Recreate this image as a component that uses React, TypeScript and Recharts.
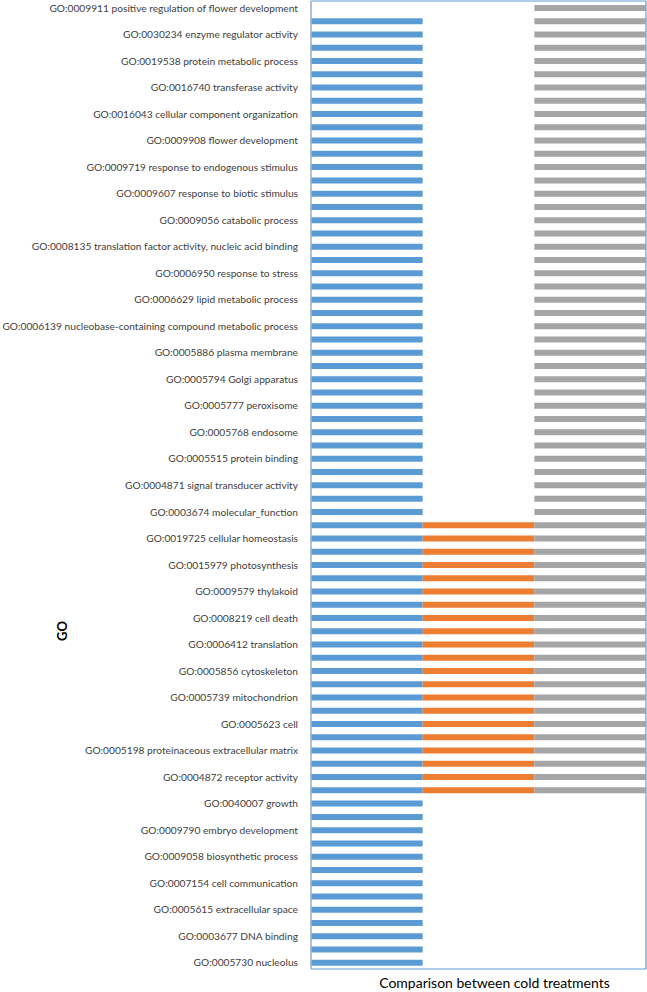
import {
  BarChart,
  Bar,
  XAxis,
  YAxis,
  CartesianGrid,
  ReferenceArea,
  Label,
} from "recharts";

// GO terms printed on the axis (the axis shows every other row)
const GO_TERMS = [
  "GO:0009911 positive regulation of flower development",
  "GO:0030234 enzyme regulator activity",
  "GO:0019538 protein metabolic process",
  "GO:0016740 transferase activity",
  "GO:0016043 cellular component organization",
  "GO:0009908 flower development",
  "GO:0009719 response to endogenous stimulus",
  "GO:0009607 response to biotic stimulus",
  "GO:0009056 catabolic process",
  "GO:0008135 translation factor activity, nucleic acid binding",
  "GO:0006950 response to stress",
  "GO:0006629 lipid metabolic process",
  "GO:0006139 nucleobase-containing compound metabolic process",
  "GO:0005886 plasma membrane",
  "GO:0005794 Golgi apparatus",
  "GO:0005777 peroxisome",
  "GO:0005768 endosome",
  "GO:0005515 protein binding",
  "GO:0004871 signal transducer activity",
  "GO:0003674 molecular_function",
  "GO:0019725 cellular homeostasis",
  "GO:0015979 photosynthesis",
  "GO:0009579 thylakoid",
  "GO:0008219 cell death",
  "GO:0006412 translation",
  "GO:0005856 cytoskeleton",
  "GO:0005739 mitochondrion",
  "GO:0005623 cell",
  "GO:0005198 proteinaceous extracellular matrix",
  "GO:0004872 receptor activity",
  "GO:0040007 growth",
  "GO:0009790 embryo development",
  "GO:0009058 biosynthetic process",
  "GO:0007154 cell communication",
  "GO:0005615 extracellular space",
  "GO:0003677 DNA binding",
  "GO:0005730 nucleolus",
];

// presence (1) / absence (0) of each GO row in the three comparisons, top to bottom
const BLUE = [
  0, 1, 1, 1, 1, 1, 1, 1, 1, 1,
  1, 1, 1, 1, 1, 1, 1, 1, 1, 1,
  1, 1, 1, 1, 1, 1, 1, 1, 1, 1,
  1, 1, 1, 1, 1, 1, 1, 1, 1, 1,
  1, 1, 1, 1, 1, 1, 1, 1, 1, 1,
  1, 1, 1, 1, 1, 1, 1, 1, 1, 1,
  1, 1, 1, 1, 1, 1, 1, 1, 1, 1,
  1, 1, 1,
];
const ORANGE = [
  0, 0, 0, 0, 0, 0, 0, 0, 0, 0,
  0, 0, 0, 0, 0, 0, 0, 0, 0, 0,
  0, 0, 0, 0, 0, 0, 0, 0, 0, 0,
  0, 0, 0, 0, 0, 0, 0, 0, 0, 1,
  1, 1, 1, 1, 1, 1, 1, 1, 1, 1,
  1, 1, 1, 1, 1, 1, 1, 1, 1, 1,
  0, 0, 0, 0, 0, 0, 0, 0, 0, 0,
  0, 0, 0,
];
const GRAY = [
  1, 1, 1, 1, 1, 1, 1, 1, 1, 1,
  1, 1, 1, 1, 1, 1, 1, 1, 1, 1,
  1, 1, 1, 1, 1, 1, 1, 1, 1, 1,
  1, 1, 1, 1, 1, 1, 1, 1, 1, 1,
  1, 1, 1, 1, 1, 1, 1, 1, 1, 1,
  1, 1, 1, 1, 1, 1, 1, 1, 1, 1,
  0, 0, 0, 0, 0, 0, 0, 0, 0, 0,
  0, 0, 0,
];

const X_TICKS = [0, 1, 2, 3];

// each comparison occupies its own unit-wide column on the x axis
const rows = BLUE.map((b, i) => ({
  id: String(i),
  blue: b ? [0, 1] : null,
  orange: ORANGE[i] ? [1, 2] : null,
  gray: GRAY[i] ? [2, 3] : null,
}));

function RowTick({ x, y, payload }: any) {
  const i = Number(payload.value);
  if (i % 2 !== 0) return null;
  return (
    <text
      x={x - 11}
      y={y}
      textAnchor="end"
      dominantBaseline="central"
      fontSize={10.2}
      fill="#404040"
    >
      {GO_TERMS[i / 2]}
    </text>
  );
}

function GoLabel() {
  return (
    <text
      x={62}
      y={631}
      transform="rotate(-90 62 631)"
      textAnchor="middle"
      dominantBaseline="central"
      fontSize={13}
      fontWeight={700}
      fill="#000"
    >
      GO
    </text>
  );
}

export default function App() {
  return (
    <div
      style={{
        position: "absolute",
        left: 0,
        top: 0,
        width: 647,
        height: 992,
        background: "#fff",
        fontFamily: "Lato, sans-serif",
      }}
    >
      <BarChart
        width={647}
        height={992}
        data={rows}
        layout="vertical"
        margin={{ top: 1, right: 1, bottom: 0, left: 0 }}
        barSize={6}
        barGap={-6}
      >
        <CartesianGrid horizontal={false} stroke="#d9d9d9" />
        <ReferenceArea x1={0} x2={3} fill="none" stroke="#5b9bd5" strokeWidth={1} />
        <XAxis
          type="number"
          domain={[0, 3]}
          ticks={X_TICKS}
          tick={false}
          axisLine={false}
          tickLine={false}
          height={23}
        >
          <Label
            value="Comparison between cold treatments"
            position="insideBottom"
            offset={4}
            dx={16}
            fontSize={14}
            fill="#000"
          />
        </XAxis>
        <YAxis
          type="category"
          dataKey="id"
          width={311}
          interval={0}
          tickLine={false}
          tickSize={0}
          axisLine={{ stroke: "#bfbfbf" }}
          tick={<RowTick />}
        >
          <Label content={<GoLabel />} />
        </YAxis>
        <Bar dataKey="blue" fill="#5b9bd5" isAnimationActive={false} />
        <Bar dataKey="orange" fill="#ed7d31" isAnimationActive={false} />
        <Bar dataKey="gray" fill="#a5a5a5" isAnimationActive={false} />
      </BarChart>
    </div>
  );
}
